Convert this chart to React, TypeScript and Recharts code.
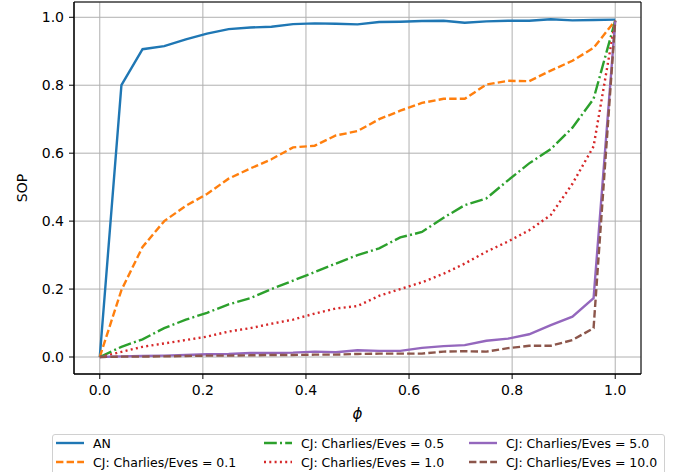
import { LineChart, Line, XAxis, YAxis, CartesianGrid, ReferenceArea, Label } from "recharts"

const phi = [0, 0.042, 0.083, 0.125, 0.167, 0.208, 0.25, 0.292, 0.333, 0.375, 0.417, 0.458, 0.5, 0.542, 0.583, 0.625, 0.667, 0.708, 0.75, 0.792, 0.833, 0.875, 0.917, 0.958, 1.0]

const an = [0, 0.8, 0.906, 0.915, 0.935, 0.952, 0.965, 0.97, 0.972, 0.98, 0.982, 0.981, 0.979, 0.986, 0.987, 0.989, 0.99, 0.984, 0.988, 0.99, 0.99, 0.994, 0.991, 0.992, 0.993]
const cj01 = [0, 0.197, 0.324, 0.4, 0.445, 0.48, 0.525, 0.555, 0.582, 0.617, 0.622, 0.652, 0.665, 0.7, 0.725, 0.748, 0.76, 0.76, 0.802, 0.813, 0.812, 0.843, 0.872, 0.91, 0.99]
const cj05 = [0, 0.03, 0.052, 0.085, 0.11, 0.13, 0.155, 0.173, 0.2, 0.225, 0.25, 0.275, 0.3, 0.32, 0.352, 0.368, 0.41, 0.447, 0.467, 0.52, 0.57, 0.612, 0.675, 0.76, 0.99]
const cj10 = [0, 0.015, 0.03, 0.04, 0.05, 0.06, 0.075, 0.085, 0.098, 0.11, 0.128, 0.143, 0.15, 0.18, 0.2, 0.22, 0.245, 0.275, 0.31, 0.34, 0.373, 0.418, 0.51, 0.62, 0.99]
const cj50 = [0, 0.002, 0.003, 0.004, 0.006, 0.008, 0.009, 0.012, 0.012, 0.013, 0.016, 0.014, 0.02, 0.018, 0.018, 0.027, 0.032, 0.035, 0.048, 0.054, 0.067, 0.094, 0.119, 0.173, 0.99]
const cj100 = [0, 0.001, 0.001, 0.002, 0.003, 0.004, 0.004, 0.005, 0.006, 0.006, 0.007, 0.007, 0.009, 0.01, 0.01, 0.01, 0.016, 0.017, 0.016, 0.026, 0.033, 0.033, 0.05, 0.085, 0.99]

const ticks = [0, 0.2, 0.4, 0.6, 0.8, 1.0]

const series = [
  { key: "an", name: "AN", values: an, color: "#1f77b4", dash: undefined },
  { key: "cj01", name: "CJ: Charlies/Eves = 0.1", values: cj01, color: "#ff7f0e", dash: "7.4 3.2" },
  { key: "cj05", name: "CJ: Charlies/Eves = 0.5", values: cj05, color: "#2ca02c", dash: "12.8 3.2 2 3.2" },
  { key: "cj10", name: "CJ: Charlies/Eves = 1.0", values: cj10, color: "#d62728", dash: "2 3.3" },
  { key: "cj50", name: "CJ: Charlies/Eves = 5.0", values: cj50, color: "#9467bd", dash: undefined },
  { key: "cj100", name: "CJ: Charlies/Eves = 10.0", values: cj100, color: "#8c564b", dash: "7.4 3.2" },
]

const data = phi.map((p, i) => {
  const row: Record<string, number> = { phi: p }
  series.forEach(s => { row[s.key] = s.values[i] })
  return row
})

const font = "'DejaVu Sans', sans-serif"
// matplotlib fills the legend column by column
const legendCols = [55, 263, 468]
const legendRows = [442, 461]

const LegendBox = () => (
  <div style={{ position: "absolute", left: 52, top: 434, width: 613, height: 44, border: "1px solid #d0d0d0", borderRadius: 3, boxSizing: "border-box", fontFamily: font, fontSize: 12.5, color: "#000" }}>
    {series.map((s, i) => {
      const x = legendCols[Math.floor(i / 2)] - 52
      const y = legendRows[i % 2] - 434
      return (
        <div key={s.key} style={{ position: "absolute", left: x, top: y - 9, height: 18, display: "flex", alignItems: "center", whiteSpace: "nowrap" }}>
          <svg width={37} height={10}>
            <line x1={0} y1={5} x2={28} y2={5} stroke={s.color} strokeWidth={2.4} strokeDasharray={s.dash} />
          </svg>
          <span>{s.name}</span>
        </div>
      )
    })}
  </div>
)

export default function App() {
  return (
    <div style={{ position: "absolute", left: 0, top: 0, width: 675, height: 472, background: "#fff", overflow: "hidden" }}>
      <LineChart width={675} height={472} data={data} margin={{ top: 2, right: 34, bottom: 0, left: 0 }}>
        <CartesianGrid stroke="#b0b0b0" strokeWidth={1} />
        <XAxis dataKey="phi" type="number" domain={[-0.05, 1.05]} ticks={ticks} allowDataOverflow height={98}
          tickFormatter={(v: number) => v.toFixed(1)} tick={{ fill: "#000", fontSize: 14, fontFamily: font }}
          stroke="#000" tickSize={5} tickMargin={6}>
          <Label value="ϕ" position="insideTop" offset={34} style={{ fontSize: 15, fontStyle: "italic", fontFamily: font, fill: "#000" }} />
        </XAxis>
        <YAxis type="number" domain={[-0.05, 1.045]} ticks={ticks} allowDataOverflow
          tickFormatter={(v: number) => v.toFixed(1)} tick={{ fill: "#000", fontSize: 14, fontFamily: font }}
          stroke="#000" tickSize={5} tickMargin={5} width={74}>
          <Label value="SOP" angle={-90} position="insideLeft" offset={22} style={{ fontSize: 14, fontFamily: font, fill: "#000", textAnchor: "middle" }} />
        </YAxis>
        <ReferenceArea x1={-0.05} x2={1.05} y1={-0.05} y2={1.045} fill="none" stroke="#000" strokeWidth={1} ifOverflow="visible" />
        {series.map(s => (
          <Line key={s.key} dataKey={s.key} name={s.name} type="linear" stroke={s.color} strokeWidth={2.4}
            strokeDasharray={s.dash} dot={false} activeDot={false} isAnimationActive={false} />
        ))}
      </LineChart>
      <LegendBox />
    </div>
  )
}
